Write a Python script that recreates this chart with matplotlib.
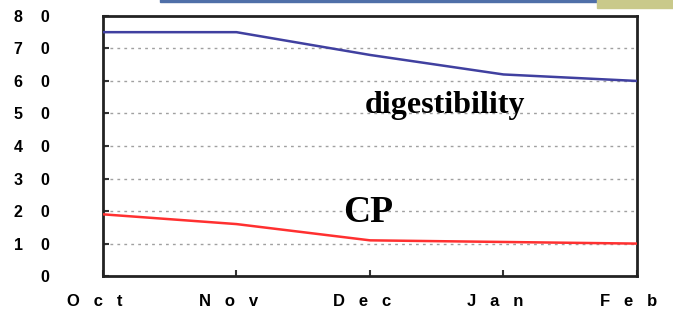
import numpy as np
import matplotlib.pyplot as plt
from matplotlib.patches import Rectangle
from matplotlib.transforms import ScaledTranslation

months = ['O   c   t', 'N   o   v', 'D   e   c', 'J   a   n', 'F   e   b']
digestibility = [75, 75, 68, 62, 60]
cp = [19, 16, 11, 10.5, 10]
yticks = [0, 10, 20, 30, 40, 50, 60, 70, 80]
ytick_labels = ['0', '1    0', '2    0', '3    0', '4    0', '5    0', '6    0', '7    0', '8    0']

fig = plt.figure(figsize=(6.73, 3.12), dpi=100)
ax = fig.add_axes([0.153, 0.115, 0.7935, 0.834])

# slide leftovers at the top
fig.patches.append(Rectangle((0.238, 0.993), 0.655, 0.01, transform=fig.transFigure,
                             color='#4f6fa8', zorder=5))
fig.patches.append(Rectangle((0.887, 0.975), 0.12, 0.03, transform=fig.transFigure,
                             color='#c9c98a', zorder=5))

x = np.arange(len(months))
for yv in yticks[1:-1]:
    ax.axhline(yv, color='#a0a0a0', lw=1.0, ls=(0, (2, 3)), zorder=1)

ax.plot(x, digestibility, color='#4040a0', lw=1.8, zorder=3)
ax.plot(x, cp, color='#ff3030', lw=1.8, zorder=3)

ax.text(1.96, 52.5, 'digestibility', family='Liberation Serif', weight='bold',
        fontsize=23, ha='left', va='center')
ax.text(1.8, 19.5, 'CP', family='Liberation Serif', weight='bold',
        fontsize=27, ha='left', va='center')

ax.set_xlim(0, 4)
ax.set_ylim(0, 80)
ax.set_xticks(x)
ax.set_xticklabels(months, family='Liberation Sans', weight='bold', fontsize=12)
ax.set_yticks(yticks)
ax.set_yticklabels(ytick_labels, family='Liberation Sans', weight='bold', fontsize=11.5)
ax.tick_params(axis='both', direction='in', length=4, width=1.5, color='#333333')
ax.tick_params(axis='x', pad=13)
ax.tick_params(axis='y', pad=38.5)
shift = ScaledTranslation(-8 / 100, 0, fig.dpi_scale_trans)
for lab in ax.get_xticklabels():
    lab.set_transform(lab.get_transform() + shift)
for s in ax.spines.values():
    s.set_linewidth(2)
    s.set_color('#222222')

fig.savefig('out.png', dpi=100)
